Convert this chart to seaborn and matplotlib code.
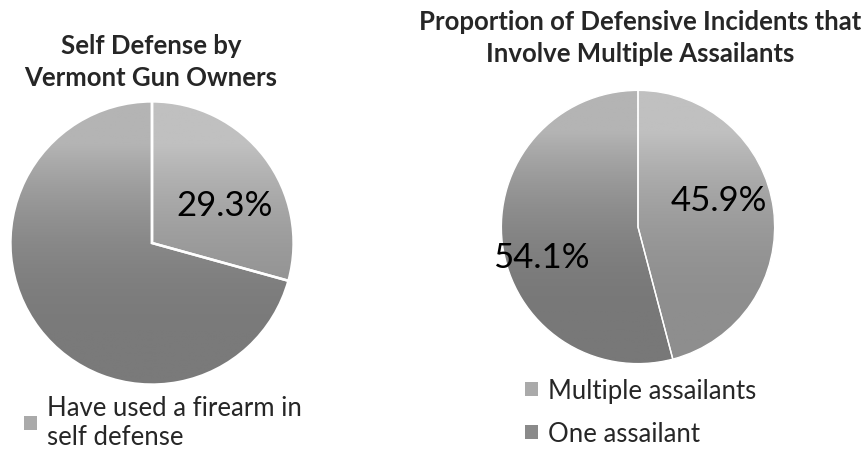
import numpy as np
import seaborn as sns
import matplotlib.pyplot as plt
from matplotlib.patches import Patch
from matplotlib.colors import LinearSegmentedColormap

# data
left_title = "Self Defense by\nVermont Gun Owners"
left_values = [29.3, 70.7]
left_labels = ["Have used a firearm in\nself defense", None]

right_title = "Proportion of Defensive Incidents that\nInvolve Multiple Assailants"
right_values = [45.9, 54.1]
right_labels = ["Multiple assailants", "One assailant"]

sns.set_theme(style="white")
plt.rcParams['font.family'] = ['Lato', 'DejaVu Sans']

W, H = 866, 456
fig = plt.figure(figsize=(W / 100, H / 100), dpi=100)


def px_axes(cx, cy, r):
    """pixel centre / radius -> axes in figure coords"""
    return fig.add_axes([(cx - r) / W, (H - cy - r) / H, 2 * r / W, 2 * r / H])


def grad_fill(ax, wedges, tops, bottoms):
    """vertical grey gradient clipped to each wedge (scan look)"""
    for w, top, bot in zip(wedges, tops, bottoms):
        cmap = LinearSegmentedColormap.from_list("g", [bot, top])
        grad = np.linspace(0, 1, 256).reshape(-1, 1)
        grad = np.clip(grad * 1.5 - 0.25, 0, 1) ** 2
        im = ax.imshow(grad, extent=[-1.05, 1.05, -1.05, 1.05], origin="lower",
                       cmap=cmap, aspect="auto", zorder=1)
        im.set_clip_path(w)
        w.set_facecolor("none")
        w.set_zorder(2)


def draw_pie(ax, values, tops, bottoms, label_pos, fs, lw):
    wedges, _, autos = ax.pie(values, startangle=90, counterclock=False,
                              autopct="%.1f%%", pctdistance=0.6,
                              wedgeprops=dict(edgecolor="white", linewidth=lw),
                              textprops=dict(fontsize=fs, color="black"))
    grad_fill(ax, wedges, tops, bottoms)
    for t, pos in zip(autos, label_pos):
        if pos is None:
            t.set_visible(False)
        else:
            t.set_position(pos)
            t.set_zorder(5)
    ax.set_xlim(-1.01, 1.01)
    ax.set_ylim(-1.01, 1.01)
    ax.set_aspect("equal")
    ax.axis("off")
    return wedges


leg_kw = dict(loc="upper left", frameon=False, fontsize=18.5, handlelength=0.5,
              handleheight=0.5, handletextpad=0.4, borderpad=0, borderaxespad=0)

# left pie
ax1 = px_axes(152, 244, 143)
draw_pie(ax1, left_values, tops=["#c0c0c0", "#b4b4b4"], bottoms=["#909090", "#7a7a7a"],
         label_pos=[(0.51, 0.27), None], fs=25, lw=1.8)
fig.text(151 / W, 1 - 62 / H, left_title, ha="center", va="center",
         fontsize=18.5, fontweight="bold", linespacing=1.4)
fig.legend(handles=[Patch(facecolor="#aaaaaa", edgecolor="none")], labels=[left_labels[0]],
           bbox_to_anchor=(24 / W, 1 - 396 / H), labelspacing=0.2, **leg_kw)

# right pie
ax2 = px_axes(638, 228, 138)
draw_pie(ax2, right_values, tops=["#c0c0c0", "#b4b4b4"], bottoms=["#8e8e8e", "#787878"],
         label_pos=[(0.59, 0.20), (-0.71, -0.22)], fs=25, lw=1.0)
fig.text(640 / W, 1 - 38 / H, right_title, ha="center", va="center",
         fontsize=18.5, fontweight="bold", linespacing=1.4)
fig.legend(handles=[Patch(facecolor="#aaaaaa", edgecolor="none"),
                    Patch(facecolor="#8a8a8a", edgecolor="none")],
           labels=right_labels, bbox_to_anchor=(525 / W, 1 - 379 / H),
           labelspacing=0.7, **leg_kw)

fig.savefig("out.png", dpi=100)
